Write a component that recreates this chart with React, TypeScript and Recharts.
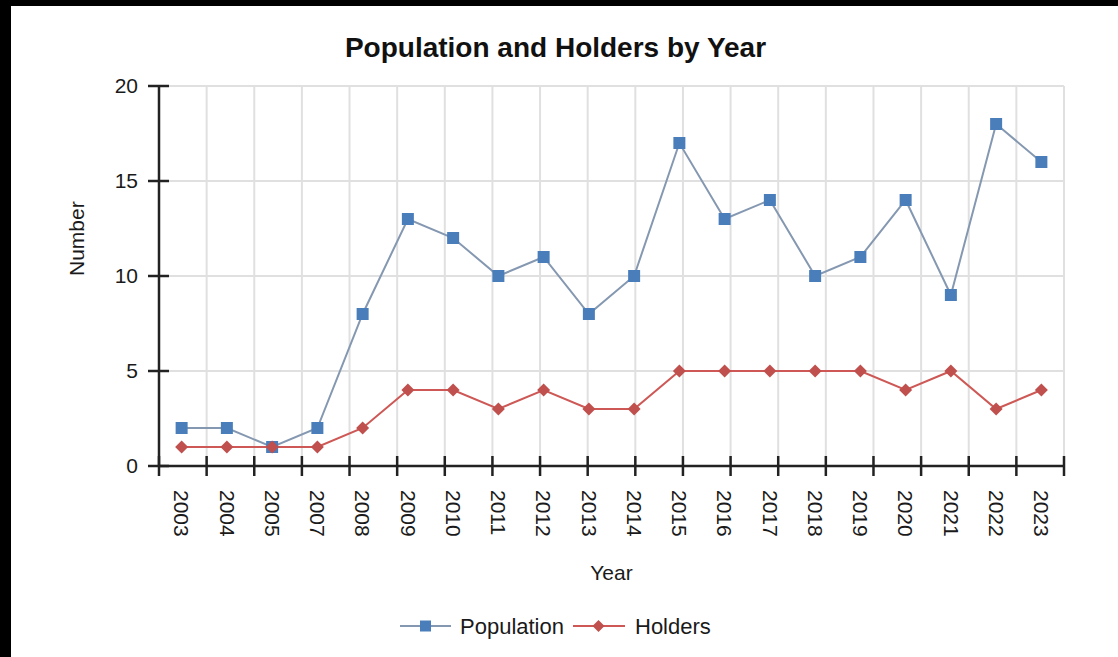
import { LineChart, Line, CartesianGrid, XAxis, YAxis, Legend } from "recharts";

const years = ["2003", "2004", "2005", "2007", "2008", "2009", "2010", "2011", "2012", "2013", "2014", "2015", "2016", "2017", "2018", "2019", "2020", "2021", "2022", "2023"];
const population = [2, 2, 1, 2, 8, 13, 12, 10, 11, 8, 10, 17, 13, 14, 10, 11, 14, 9, 18, 16];
const holders = [1, 1, 1, 1, 2, 4, 4, 3, 4, 3, 3, 5, 5, 5, 5, 5, 4, 5, 3, 4];
const yTicks = [0, 5, 10, 15, 20];

const data = years.map((year, i) => ({ year, Population: population[i], Holders: holders[i] }));
const bandEdges = years.map((_, i) => i).concat([years.length]);

const FONT = "'Liberation Sans', Arial, sans-serif";
const POP_LINE = "#8598b1";
const POP_MARK = "#4a7ebb";
const HOLD_LINE = "#cd5855";
const HOLD_MARK = "#c0504d";
const AXIS = "#222";
const TEXT = "#1a1a1a";

function SquareDot(props: any) {
  const { cx, cy } = props;
  if (cx == null || cy == null) return null;
  return <rect x={cx - 6} y={cy - 6} width={12} height={12} fill={POP_MARK} />;
}

function DiamondDot(props: any) {
  const { cx, cy } = props;
  if (cx == null || cy == null) return null;
  return <path d={`M${cx},${cy - 6.5}L${cx + 6.5},${cy}L${cx},${cy + 6.5}L${cx - 6.5},${cy}Z`} fill={HOLD_MARK} />;
}

function YTick(props: any) {
  const { x, y, payload } = props;
  return (
    <g>
      <line x1={x - 11} x2={x + 10} y1={y} y2={y} stroke={AXIS} strokeWidth={2.5} />
      <text x={x - 21} y={y} dy="0.35em" textAnchor="end" fontSize={21} fill={TEXT} fontFamily={FONT}>
        {payload.value}
      </text>
    </g>
  );
}

function EdgeTick(props: any) {
  const { x, y, payload } = props;
  if (payload == null || payload.value < 0 || payload.value > years.length) return null;
  return <line x1={x} x2={x} y1={y - 10} y2={y + 10} stroke={AXIS} strokeWidth={2.5} />;
}

function YearTick(props: any) {
  const { x, y, payload } = props;
  return (
    <text
      x={x}
      y={y}
      dy="0.35em"
      transform={`rotate(90 ${x} ${y})`}
      textAnchor="start"
      fontSize={21}
      fill={TEXT}
      fontFamily={FONT}
    >
      {payload.value}
    </text>
  );
}

function LegendContent() {
  return (
    <svg width={340} height={30} style={{ overflow: "visible" }}>
      <line x1={0} x2={51} y1={15} y2={15} stroke={POP_LINE} strokeWidth={2} />
      <rect x={20} y={9.5} width={11} height={11} fill={POP_MARK} />
      <text x={60} y={15} dy="0.35em" fontSize={22} fill={TEXT} fontFamily={FONT}>Population</text>
      <line x1={173} x2={225} y1={15} y2={15} stroke={HOLD_LINE} strokeWidth={2} />
      <path d="M198.5,9L204.5,15L198.5,21L192.5,15Z" fill={HOLD_MARK} />
      <text x={235} y={15} dy="0.35em" fontSize={22} fill={TEXT} fontFamily={FONT}>Holders</text>
    </svg>
  );
}

export default function App() {
  return (
    <div style={{ position: "absolute", left: 0, top: 0, width: 1118, height: 657, background: "#000", overflow: "hidden" }}>
      <div style={{ position: "absolute", left: 11, top: 6, width: 1107, height: 651, background: "#fff", fontFamily: FONT, overflow: "hidden" }}>
        <div
          style={{
            position: "absolute",
            left: 0,
            top: 26,
            width: 1089,
            textAlign: "center",
            fontSize: 28,
            lineHeight: "31px",
            fontWeight: "bold",
            color: "#111",
          }}
        >
          Population and Holders by Year
        </div>
        <LineChart width={1090} height={651} data={data} margin={{ top: 80, right: 37, left: 0, bottom: 21 }}>
          <CartesianGrid xAxisId="a" stroke="#e0e0e0" strokeWidth={2} />
          <XAxis
            xAxisId="a"
            type="number"
            domain={[0, years.length]}
            allowDataOverflow
            ticks={bandEdges}
            interval={0}
            height={1}
            tickSize={0}
            tickMargin={0}
            tickLine={false}
            tick={<EdgeTick />}
            axisLine={{ stroke: AXIS, strokeWidth: 2.5 }}
          />
          <XAxis
            xAxisId="b"
            dataKey="year"
            scale="band"
            interval={0}
            height={139}
            tickSize={0}
            tickMargin={23}
            tickLine={false}
            axisLine={false}
            tick={<YearTick />}
            label={{ value: "Year", position: "insideBottom", offset: 26, fontSize: 21, fill: TEXT, fontFamily: FONT }}
          />
          <YAxis
            width={148}
            domain={[0, 20]}
            ticks={yTicks}
            interval={0}
            tickSize={0}
            tickMargin={0}
            tickLine={false}
            tick={<YTick />}
            axisLine={{ stroke: AXIS, strokeWidth: 2.5 }}
            label={{ value: "Number", angle: -90, position: "insideLeft", offset: 66, fontSize: 21, fill: TEXT, fontFamily: FONT }}
          />
          <Legend
            content={<LegendContent />}
            wrapperStyle={{ position: "absolute", left: 389, top: 605, width: 340, height: 30 }}
          />
          <Line
            xAxisId="b"
            type="linear"
            dataKey="Population"
            stroke={POP_LINE}
            strokeWidth={2}
            dot={<SquareDot />}
            activeDot={false}
            isAnimationActive={false}
          />
          <Line
            xAxisId="b"
            type="linear"
            dataKey="Holders"
            stroke={HOLD_LINE}
            strokeWidth={2}
            dot={<DiamondDot />}
            activeDot={false}
            isAnimationActive={false}
          />
        </LineChart>
      </div>
    </div>
  );
}
